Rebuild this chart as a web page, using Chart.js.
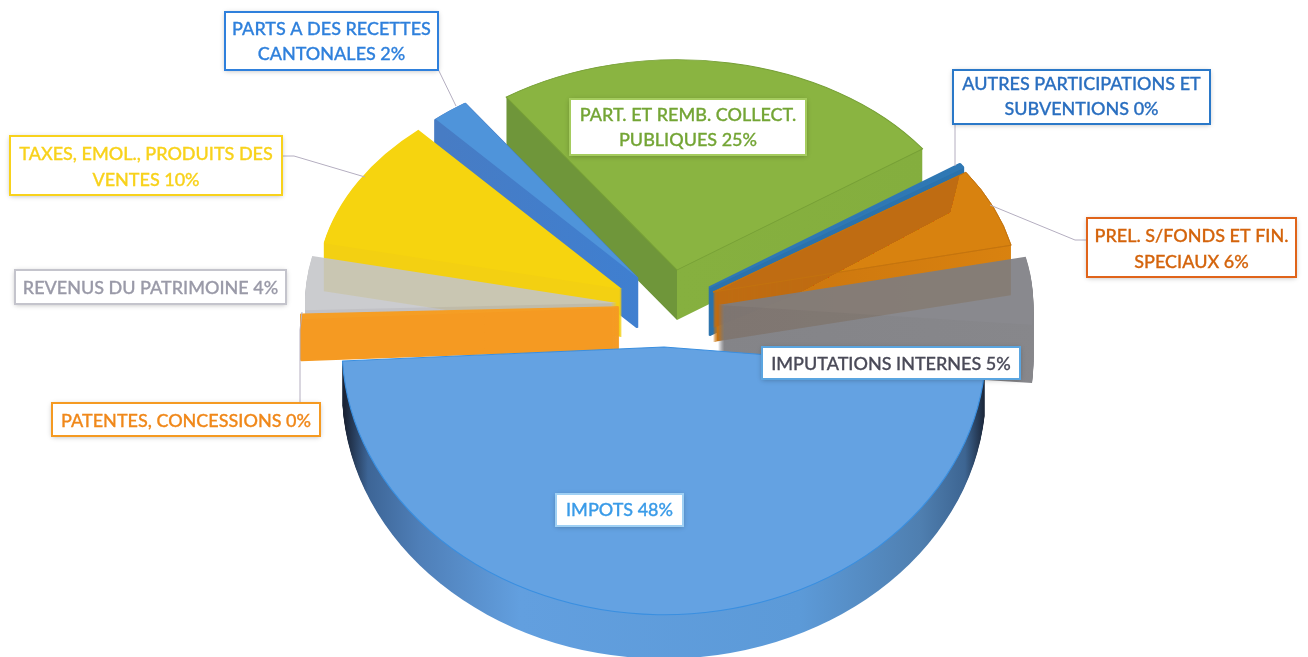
<!DOCTYPE html>
<html><head><meta charset="utf-8">
<style>html,body{margin:0;padding:0;background:#fff;overflow:hidden}canvas{display:block}</style>
<script src="https://cdn.jsdelivr.net/npm/chart.js@4"></script></head>
<body><canvas id="c" width="1308" height="657"></canvas>
<script>
// ---- data, clockwise from the yellow slice ----
const categories = ['TAXES, EMOL., PRODUITS DES VENTES','PARTS A DES RECETTES CANTONALES','PART. ET REMB. COLLECT. PUBLIQUES','AUTRES PARTICIPATIONS ET SUBVENTIONS','PREL. S/FONDS ET FIN. SPECIAUX','IMPUTATIONS INTERNES','IMPOTS','PATENTES, CONCESSIONS','REVENUS DU PATRIMOINE'];
const values = [10,2,25,0.3,6,5,48,0.3,4];
const percentLabels = ['10%','2%','25%','0%','6%','5%','48%','0%','4%'];
const faceColors = ['#f6d40f','#4f94da','#8ab441','#2f78b4','#d8820f','#7d7d82','#64a2e2','#f59e25','#c4c5c9'];

// ---- 3D look: per-slice pose (explode + perspective) and style ----
const pose = [ // ax, ay = where the slice tip sits; sx, sy = squash; d = wall height; a = opacity
 {ax:622,ay:289,sx:.93,sy:.65,d:48,a:1},
 {ax:637,ay:277,sx:.92,sy:.645,d:50,a:1},
 {ax:677,ay:270,sx:.915,sy:.64,d:50,a:1},
 {ax:710,ay:287,sx:.93,sy:.65,d:48,a:1},
 {ax:713,ay:292,sx:.93,sy:.65,d:50,a:1},
 {ax:718,ay:305,sx:.96,sy:.67,d:58,a:.9},
 {ax:664,ay:347,sx:.98,sy:.815,d:44,a:1},
 {ax:618,ay:307,sx:.965,sy:.67,d:42,a:1},
 {ax:617,ay:303,sx:.95,sy:.665,d:44,a:.88}
];
const drawOrder = [2,1,0,3,4,5,8,7,6];
const edgeColors = [null,null,'#769f36',null,'#c4740e',null,'#3a8fe0',null,null];
const edgeWidths = [0,0,1.2,3,1,0,1.2,2.5,0];
const wallEdgeWidths = [0,3,0,3,0,0,0,2.5,0];
const wallStops = [
 [[322,'#f3d012'],[625,'#f3d012']],
 [[442,'#477cc4'],[637,'#3f7fd0']],
 [[507,'#6f963a'],[676.5,'#6f963a'],[677.5,'#86b03f'],[925,'#84ae3e']],
 [[700,'#2a72ac'],[960,'#2a72ac']],
 [[710,'#c8730f'],[1015,'#d9820f']],
 [[715,'#77777c'],[1040,'#7a7a7f']],
 [[345,'#1a2436'],[368,'#3d6596'],[420,'#4f7fb8'],[520,'#629fdf'],[800,'#5c9ad8'],[920,'#4f7fb0'],[965,'#3d6592'],[985,'#1a2436']],
 [[300,'#f59a22'],[620,'#f59a22']],
 [[300,'#b9b9bd'],[620,'#b9b9bd']]
];
const shade = {slice:4, poly:[[708,296],[962,165],[950,212],[800,292],[708,330]], color:'#bf6c12'};

// ---- text boxes ----
const boxes = [
 {x:225,y:12,w:213,h:58,c:'#2f80dc',b:'#2f80dc',lines:['PARTS A DES RECETTES','CANTONALES 2%'],ty:[29,54]},
 {x:10,y:136,w:272,h:59,c:'#f8d21c',b:'#f8d21c',lines:['TAXES, EMOL., PRODUITS DES','VENTES 10%'],ty:[154,180]},
 {x:570,y:99,w:236,h:56,c:'#74a535',b:'#a5cc5e',lines:['PART. ET REMB. COLLECT.','PUBLIQUES 25%'],ty:[115,140]},
 {x:953,y:70,w:257,h:54,c:'#2a6fc0',b:'#2a78c8',lines:['AUTRES PARTICIPATIONS ET','SUBVENTIONS 0%'],ty:[84,109]},
 {x:1087,y:218,w:209,h:59,c:'#d4640c',b:'#e0641a',lines:['PREL. S/FONDS ET FIN.','SPECIAUX 6%'],ty:[236,262]},
 {x:762,y:347,w:258,h:32,c:'#4a4a58',b:'#5aa5e0',lines:['IMPUTATIONS INTERNES 5%'],ty:[364]},
 {x:15,y:270,w:271,h:34,c:'#9a9aa8',b:'#c4c4cc',lines:['REVENUS DU PATRIMOINE 4%'],ty:[288]},
 {x:52,y:403,w:268,h:33,c:'#f0881a',b:'#f59a22',lines:['PATENTES, CONCESSIONS 0%'],ty:[421]},
 {x:556,y:494,w:127,h:32,c:'#3a9be8',b:'#9fd0f4',lines:['IMPOTS 48%'],ty:[510]}
];
const leaders = [
 [[438,69],[456,106]],
 [[282,156],[294,156],[365,177]],
 [[955,124],[955,166]],
 [[1087,240],[1075,240],[990,205]],
 [[302,312],[300,330],[300,404]]
];

const flat = {backgroundColor:'#000',borderColor:'#000',borderWidth:0,borderAlign:'center',offset:0,spacing:0,borderRadius:0,circular:true,borderJoinStyle:'round',borderDash:[],borderDashOffset:0,selfJoin:false};

const pie3d = {
 id:'pie3d',
 beforeDatasetsDraw(chart){
  const ctx = chart.ctx, arcs = chart.getDatasetMeta(0).data;
  drawOrder.forEach(i=>{
   const arc = arcs[i], p = pose[i], saved = arc.options;
   const layer = document.createElement('canvas');
   layer.width = chart.width; layer.height = chart.height;
   const lc = layer.getContext('2d');
   const gx = x => (x-p.ax)/p.sx + arc.x;
   const stops = wallStops[i];
   const g = lc.createLinearGradient(gx(stops[0][0]),0,gx(stops[stops.length-1][0]),0);
   const span = stops[stops.length-1][0]-stops[0][0];
   stops.forEach(s=>g.addColorStop((s[0]-stops[0][0])/span,s[1]));
   const paint = (dy,color,edge,w)=>{
    lc.save();
    lc.translate(p.ax,p.ay+dy); lc.scale(p.sx,p.sy); lc.translate(-arc.x,-arc.y);
    arc.options = Object.assign({},flat,{backgroundColor:color,borderColor:edge||color,borderWidth:w||0});
    arc.draw(lc);
    lc.restore();
   };
   for(let d=p.d;d>=1;d--) paint(d,g,g,wallEdgeWidths[i]);
   paint(0,faceColors[i],edgeColors[i],edgeWidths[i]);
   if(shade.slice===i){
    lc.save();lc.beginPath();
    shade.poly.forEach((q,k)=>k?lc.lineTo(q[0],q[1]):lc.moveTo(q[0],q[1]));
    lc.closePath();lc.clip();
    for(let d=p.d;d>=0;d-=1) paint(d,shade.color);
    lc.restore();
    paint(0,'rgba(0,0,0,0)',edgeColors[i],edgeWidths[i]);
   }
   arc.options = saved;
   ctx.save();ctx.globalAlpha=p.a;ctx.drawImage(layer,0,0);ctx.restore();
  });
  return false;
 },
 afterDraw(chart){
  const ctx = chart.ctx;
  ctx.save();
  ctx.strokeStyle='#b4aec0';ctx.lineWidth=1;
  leaders.forEach(l=>{ctx.beginPath();l.forEach((q,k)=>k?ctx.lineTo(q[0],q[1]):ctx.moveTo(q[0],q[1]));ctx.stroke();});
  boxes.forEach(b=>{
   ctx.save();
   ctx.shadowColor='rgba(0,0,0,.28)';ctx.shadowBlur=5;ctx.shadowOffsetY=1;
   ctx.fillStyle='#fff';ctx.fillRect(b.x,b.y,b.w,b.h);
   ctx.restore();
   ctx.strokeStyle=b.b;ctx.lineWidth=2;ctx.strokeRect(b.x,b.y,b.w,b.h);
   ctx.fillStyle=b.c;ctx.strokeStyle=b.c;ctx.lineWidth=.3;
   ctx.font='500 18px Lato, "Open Sans", sans-serif';
   ctx.textAlign='center';ctx.textBaseline='middle';
   b.lines.forEach((t,k)=>{ctx.fillText(t,b.x+b.w/2,b.ty[k]);ctx.strokeText(t,b.x+b.w/2,b.ty[k]);});
  });
  ctx.restore();
 }
};

new Chart(document.getElementById('c'),{
 type:'pie',
 data:{labels:categories,datasets:[{data:values,backgroundColor:faceColors,borderWidth:0,percent:percentLabels}]},
 options:{responsive:false,animation:false,rotation:-77.6,
  layout:{padding:0},
  plugins:{legend:{display:false},tooltip:{enabled:false}}},
 plugins:[pie3d]
});
</script></body></html>
